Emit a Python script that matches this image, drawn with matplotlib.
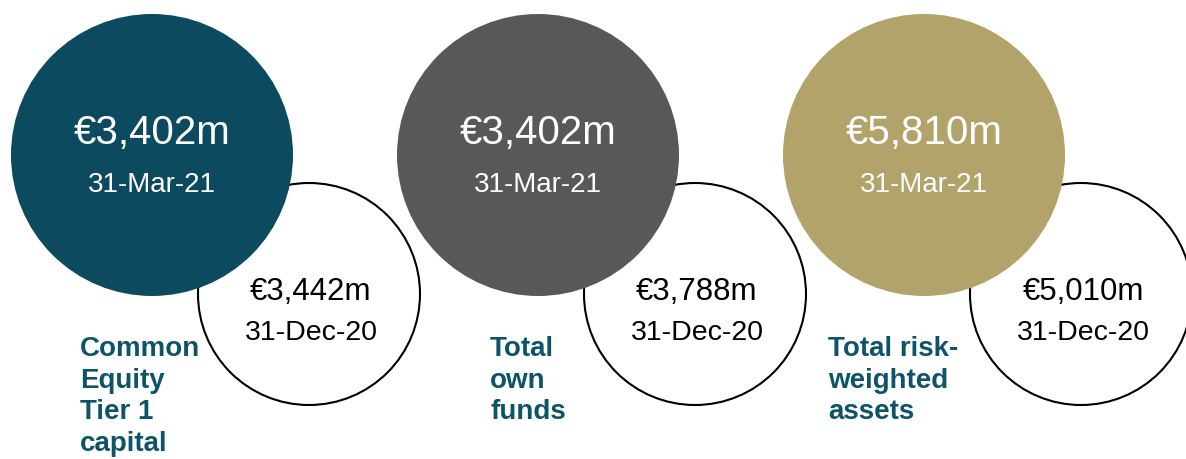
import matplotlib.pyplot as plt
from matplotlib.patches import Circle

plt.rcParams["font.family"] = ["Liberation Sans", "DejaVu Sans"]

# data
LABELS = ["Common\nEquity\nTier 1\ncapital", "Total\nown\nfunds", "Total risk-\nweighted\nassets"]
VALUES_MAR21 = [3402, 3402, 5810]
VALUES_DEC20 = [3442, 3788, 5010]
DATE_CURRENT = "31-Mar-21"
DATE_PRIOR = "31-Dec-20"
FILL_COLORS = ["#0c4a5f", "#58585a", "#b2a36a"]
LABEL_COLOR = "#0e5468"

# layout in pixel units
SPACING = 386
BIG_X, BIG_Y, BIG_R = 152, 156, 141
SMALL_X, SMALL_Y, SMALL_R = 309, 295, 111
LABEL_X = [80, 490, 828]
LABEL_Y = 336


def fmt(v):
    return f"\u20ac{v:,}m"


fig = plt.figure(figsize=(11.86, 4.6), dpi=100)
ax = fig.add_axes([0, 0, 1, 1])
ax.set_xlim(0, 1186)
ax.set_ylim(460, 0)
ax.set_aspect("equal")
ax.axis("off")

for i, label in enumerate(LABELS):
    off = i * SPACING
    # previous period: outline circle behind
    ax.add_patch(Circle((SMALL_X + off, SMALL_Y), SMALL_R, facecolor="white",
                        edgecolor="black", linewidth=1.5, zorder=1))
    ax.text(SMALL_X + off + 2, 292, fmt(VALUES_DEC20[i]), ha="center", va="center",
            fontsize=22.5, color="black", zorder=3)
    ax.text(SMALL_X + off + 2, 333, DATE_PRIOR, ha="center", va="center",
            fontsize=20.5, color="black", zorder=3)

    # current period: filled circle in front
    ax.add_patch(Circle((BIG_X + off, BIG_Y), BIG_R, facecolor=FILL_COLORS[i],
                        edgecolor="none", zorder=2))
    ax.text(BIG_X + off, 133, fmt(VALUES_MAR21[i]), ha="center", va="center",
            fontsize=29, color="white", zorder=3)
    ax.text(BIG_X + off, 185, DATE_CURRENT, ha="center", va="center",
            fontsize=20, color="white", zorder=3)

    ax.text(LABEL_X[i], LABEL_Y, label, ha="left", va="top", fontsize=20,
            fontweight="bold", color=LABEL_COLOR, linespacing=1.28, zorder=3)

fig.savefig("out.png", dpi=100)
